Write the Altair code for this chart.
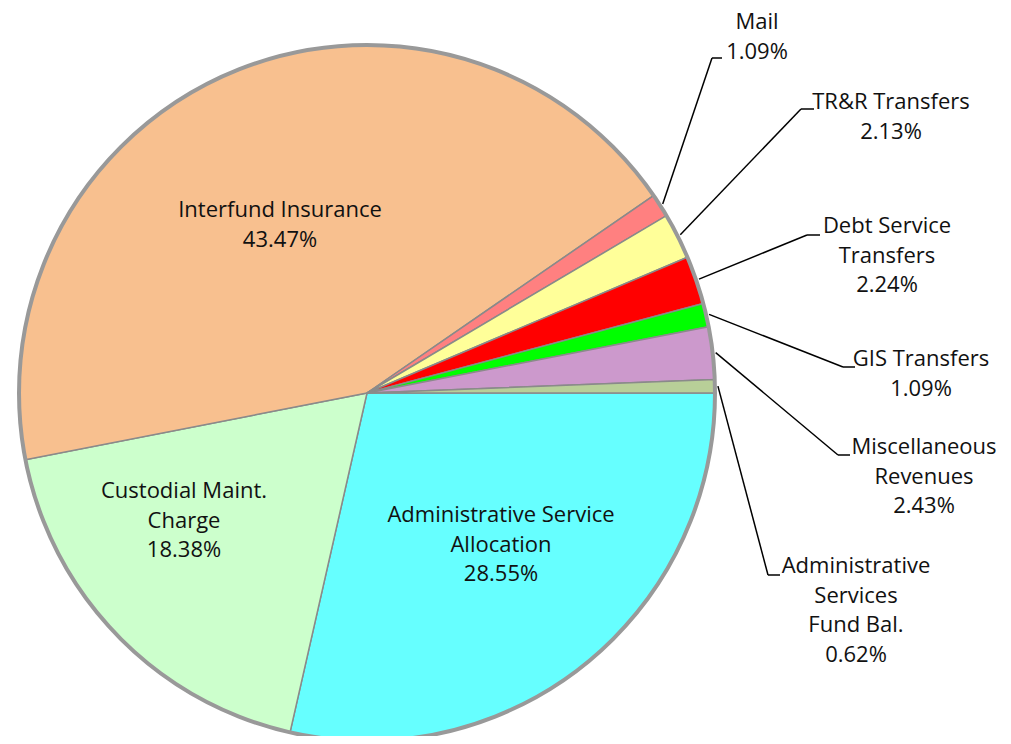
import math
import altair as alt
import pandas as pd

# ---- data ----
categories = [
    "Administrative Service Allocation",
    "Custodial Maint. Charge",
    "Interfund Insurance",
    "Mail",
    "TR&R Transfers",
    "Debt Service Transfers",
    "GIS Transfers",
    "Miscellaneous Revenues",
    "Administrative Services Fund Bal.",
]
values = [28.55, 18.38, 43.47, 1.09, 2.13, 2.24, 1.09, 2.43, 0.62]
label_lines = [
    ["Administrative Service", "Allocation"],
    ["Custodial Maint.", "Charge"],
    ["Interfund Insurance"],
    ["Mail"],
    ["TR&R Transfers"],
    ["Debt Service", "Transfers"],
    ["GIS Transfers"],
    ["Miscellaneous", "Revenues"],
    ["Administrative", "Services", "Fund Bal."],
]
colors = ["#66FFFF", "#CCFFCC", "#F8C08F", "#FF8080", "#FFFF99",
          "#FF0000", "#00FF00", "#CC99CC", "#B8CF98"]

# ---- layout (page pixel coordinates) ----
CX, CY, R = 367, 393, 348
W, H = 995, 728
label_pos = {  # first-line baseline, centre x
    "Administrative Service Allocation": (501, 522),
    "Custodial Maint. Charge": (184, 498),
    "Interfund Insurance": (280, 217),
    "Mail": (757, 29),
    "TR&R Transfers": (891, 109),
    "Debt Service Transfers": (887, 233),
    "GIS Transfers": (921, 366),
    "Miscellaneous Revenues": (924, 454),
    "Administrative Services Fund Bal.": (856, 573),
}
elbows = {  # elbow x, elbow y, end x of the short horizontal
    "Mail": (712, 58, 722),
    "TR&R Transfers": (801, 109, 814),
    "Debt Service Transfers": (807, 235, 820),
    "GIS Transfers": (843, 367, 855),
    "Miscellaneous Revenues": (838, 455, 850),
    "Administrative Services Fund Bal.": (768, 575, 780),
}

total = sum(values)
pie = pd.DataFrame({"category": categories, "value": values,
                    "order": list(range(len(categories)))})

# labels
lab_rows = []
cum = 0.0
seg_rows = []
for cat, v, lines in zip(categories, values, label_lines):
    mid = math.pi / 2 + 2 * math.pi * (cum + v / 2) / total
    cum += v
    lx, ly = label_pos[cat]
    lab_rows.append({"x": lx, "y": ly, "text": lines + [f"{v:.2f}%"]})
    if cat in elbows:
        ex, ey, ex2 = elbows[cat]
        sx = CX + (R + 3) * math.sin(mid)
        sy = CY - (R + 3) * math.cos(mid)
        seg_rows.append({"x": sx, "y": sy, "x2": ex, "y2": ey})
        seg_rows.append({"x": ex, "y": ey, "x2": ex2, "y2": ey})
labels = pd.DataFrame(lab_rows)
segs = pd.DataFrame(seg_rows)

xs = alt.Scale(domain=[8, 8 + W], nice=False, zero=False)
ys = alt.Scale(domain=[8 + H, 8], nice=False, zero=False)

arcs = alt.Chart(pie).mark_arc(radius=R, stroke="#8a8a8a", strokeWidth=1.5).encode(
    theta=alt.Theta("value:Q", stack=True,
                    scale=alt.Scale(range=[math.pi / 2, math.pi / 2 + 2 * math.pi])),
    color=alt.Color("category:N", scale=alt.Scale(domain=categories, range=colors),
                    legend=None),
    order=alt.Order("order:Q"),
    x=alt.value(CX - 8),
    y=alt.value(CY - 8),
)

ring = alt.Chart(pd.DataFrame({"v": [1]})).mark_arc(
    radius=R, theta=0, theta2=6.2832, fillOpacity=0, fill="white",
    stroke="#999999", strokeWidth=4,
).encode(x=alt.value(CX - 8), y=alt.value(CY - 8))

leaders = alt.Chart(segs).mark_rule(color="#000000", strokeWidth=1.5).encode(
    x=alt.X("x:Q", scale=xs, axis=None),
    y=alt.Y("y:Q", scale=ys, axis=None),
    x2="x2:Q",
    y2="y2:Q",
)

texts = alt.Chart(labels).mark_text(
    font="Open Sans", fontSize=22, align="center", baseline="alphabetic",
    lineHeight=29.5, color="#111111",
).encode(
    x=alt.X("x:Q", scale=xs, axis=None),
    y=alt.Y("y:Q", scale=ys, axis=None),
    text="text",
)

chart = alt.layer(arcs, ring, leaders, texts).properties(
    width=W, height=H, autosize="none", padding=0
).configure_view(stroke=None)

chart.save("out.html", embed_options={"renderer": "svg", "actions": False})
